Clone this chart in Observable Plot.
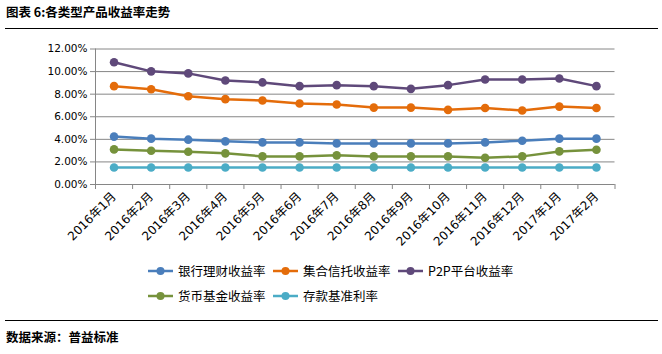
<!DOCTYPE html>
<html><head><meta charset="utf-8">
<script src="https://cdn.jsdelivr.net/npm/d3@7"></script>
<script src="https://cdn.jsdelivr.net/npm/@observablehq/plot@0.6"></script>
<style>
html,body{margin:0;padding:0;background:#fff;}
body{width:662px;height:354px;position:relative;overflow:hidden;font-family:"Noto Sans CJK SC",sans-serif;color:#000;}
#title{position:absolute;left:6px;top:3px;font-size:12.5px;font-weight:bold;line-height:18px;white-space:nowrap;}
.hr{position:absolute;left:5px;width:653px;height:0;border-top:1.5px solid #000;}
#chart{position:absolute;left:0;top:30px;}
#legend{position:absolute;left:148px;top:258px;width:380px;display:flex;flex-wrap:wrap;}
.item{width:125px;height:25px;display:flex;align-items:center;font-size:12.5px;white-space:nowrap;}
.item svg{margin-right:5px;flex:none;}
#caption{position:absolute;left:6px;top:328px;font-size:12.5px;font-weight:bold;line-height:18px;}
</style></head><body>
<div id="title">图表 6:各类型产品收益率走势</div>
<div class="hr" style="top:28px"></div>
<div id="chart"></div>
<div id="legend"></div>
<div class="hr" style="top:320px"></div>
<div id="caption">数据来源：普益标准</div>
<script>
const months = ["2016年1月","2016年2月","2016年3月","2016年4月","2016年5月","2016年6月","2016年7月","2016年8月","2016年9月","2016年10月","2016年11月","2016年12月","2017年1月","2017年2月"];
const seriesNames = ["银行理财收益率","集合信托收益率","P2P平台收益率","货币基金收益率","存款基准利率"];
const seriesColors = ["#4a7ebb","#e46c0a","#5f497a","#76923c","#4bacc6"];
const bank    = [4.24, 4.06, 3.97, 3.82, 3.73, 3.73, 3.64, 3.64, 3.64, 3.64, 3.73, 3.88, 4.06, 4.06];
const trust   = [8.71, 8.44, 7.82, 7.56, 7.44, 7.17, 7.08, 6.81, 6.81, 6.61, 6.78, 6.55, 6.90, 6.78];
const p2p     = [10.82, 10.02, 9.84, 9.21, 9.04, 8.71, 8.80, 8.71, 8.47, 8.80, 9.30, 9.30, 9.39, 8.71];
const money   = [3.11, 2.99, 2.90, 2.76, 2.49, 2.49, 2.58, 2.49, 2.49, 2.49, 2.37, 2.49, 2.93, 3.08];
const deposit = [1.5, 1.5, 1.5, 1.5, 1.5, 1.5, 1.5, 1.5, 1.5, 1.5, 1.5, 1.5, 1.5, 1.5];
const yTicks = [0, 2, 4, 6, 8, 10, 12];

const allSeries = [bank, trust, p2p, money, deposit];
const rows = allSeries.flatMap((vals, s) => vals.map((v, i) => ({series: seriesNames[s], x: i + 0.5, v})));
const boundaries = d3.range(0, months.length + 1);
const centers = months.map((m, i) => i + 0.5);
const axisColor = "#868686";

const chart = Plot.plot({
  width: 662, height: 225,
  marginLeft: 95, marginRight: 47.5, marginTop: 18.5, marginBottom: 71,
  x: {type: "linear", domain: [0, months.length], label: null},
  y: {domain: [0, 12], label: null},
  color: {domain: seriesNames, range: seriesColors},
  style: {fontFamily: "'DejaVu Sans','Noto Sans CJK SC',sans-serif", fontSize: "10.5px", background: "white", overflow: "visible"},
  marks: [
    Plot.gridY(yTicks, {stroke: axisColor, strokeOpacity: 1, strokeWidth: 1}),
    Plot.axisY({ticks: yTicks, tickFormat: d => d.toFixed(2) + "%", tickSize: 5, tickPadding: 3, stroke: axisColor, fill: "#000", label: null}),
    Plot.ruleX([0], {stroke: axisColor}),
    Plot.axisX({ticks: boundaries, tickFormat: () => "", tickSize: 5, stroke: axisColor, label: null}),
    Plot.axisX({ticks: centers, tickFormat: d => months[Math.round(d - 0.5)], tickSize: 0, tickPadding: 10, tickRotate: -45, fill: "#000", fontSize: 12, label: null}),
    Plot.ruleY([0], {stroke: axisColor}),
    Plot.line(rows, {x: "x", y: "v", z: "series", stroke: "series", strokeWidth: 2.5}),
    Plot.dot(rows, {x: "x", y: "v", fill: "series", r: 4.3})
  ]
});
document.getElementById("chart").appendChild(chart);

const legend = document.getElementById("legend");
seriesNames.forEach((name, i) => {
  const item = document.createElement("div");
  item.className = "item";
  item.innerHTML = `<svg width="25" height="10"><line x1="0" y1="5" x2="25" y2="5" stroke="${seriesColors[i]}" stroke-width="2.5"/><circle cx="12.5" cy="5" r="4" fill="${seriesColors[i]}"/></svg><span>${name}</span>`;
  legend.appendChild(item);
});
</script>
</body></html>
